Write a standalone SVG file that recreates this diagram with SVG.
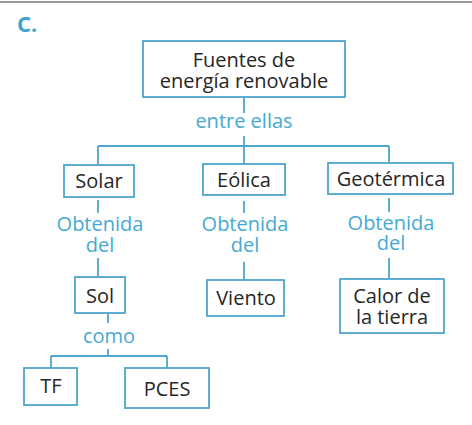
<svg xmlns="http://www.w3.org/2000/svg" width="472" height="425" viewBox="0 0 472 425">
<style>
.box{fill:#fff;stroke:#4ea6cc;stroke-width:1.8}
.t{font-family:"Open Sans","DejaVu Sans",sans-serif;font-size:20px;fill:#262626;text-anchor:middle}
.l{font-family:"Open Sans","DejaVu Sans",sans-serif;font-size:20px;fill:#45aad3;text-anchor:middle}
.c{fill:none;stroke:#4ea6cc;stroke-width:1.8}
</style>
<rect width="472" height="425" fill="#fff"/>
<line x1="0" y1="2" x2="472" y2="2" stroke="#9a9a9a" stroke-width="2"/>
<text x="17" y="32" font-family="Open Sans, DejaVu Sans, sans-serif" font-size="22" font-weight="bold" fill="#3fa3d1">C.</text>
<g id="connectors">
<path class="c" d="M244 97V113 M244 136V146 M98 146H389 M98 146V165 M244 146V164 M389 146V163"/>
<path class="c" d="M98 200V213 M98 258V277 M244 201V213 M244 262V280 M389 198V212 M389 258V279"/>
<path class="c" d="M108 313V323 M108 349V356 M51 356H167 M51 356V368 M167 356V368"/>
</g>
<g id="fuentes"><rect class="box" x="143" y="41" width="202" height="56"/><text class="t" x="244" y="67">Fuentes de</text><text class="t" x="244" y="88">energía renovable</text></g>
<g id="entre"><text class="l" x="244" y="128">entre ellas</text></g>
<g id="solar"><rect class="box" x="64" y="165" width="70" height="32"/><text class="t" x="99" y="188">Solar</text></g>
<g id="eolica"><rect class="box" x="203" y="164" width="82" height="31"/><text class="t" x="244" y="187">Eólica</text></g>
<g id="geotermica"><rect class="box" x="328" y="163" width="125" height="31"/><text class="t" x="391" y="186">Geotérmica</text></g>
<g id="obt1"><text class="l" x="100" y="231">Obtenida</text><text class="l" x="100" y="252">del</text></g>
<g id="obt2"><text class="l" x="245" y="231">Obtenida</text><text class="l" x="245" y="252">del</text></g>
<g id="obt3"><text class="l" x="391" y="230">Obtenida</text><text class="l" x="391" y="250">del</text></g>
<g id="sol"><rect class="box" x="75" y="277" width="50" height="36"/><text class="t" x="100" y="303">Sol</text></g>
<g id="viento"><rect class="box" x="207" y="280" width="77" height="36"/><text class="t" x="246" y="305">Viento</text></g>
<g id="calor"><rect class="box" x="340" y="279" width="104" height="54"/><text class="t" x="392" y="303">Calor de</text><text class="t" x="392" y="324">la tierra</text></g>
<g id="como"><text class="l" x="109" y="343">como</text></g>
<g id="tf"><rect class="box" x="24" y="368" width="53" height="37"/><text class="t" x="51" y="393">TF</text></g>
<g id="pces"><rect class="box" x="125" y="368" width="84" height="40"/><text class="t" x="167" y="396">PCES</text></g>
</svg>
